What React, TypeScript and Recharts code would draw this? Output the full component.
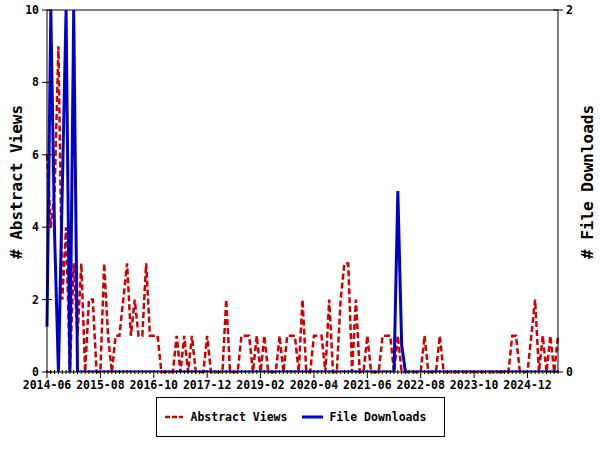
import React from "react";
import { LineChart, Line, XAxis, YAxis, Legend, ReferenceLine } from "recharts";

// monthly values, first month is 2014-06
const abstractViews = [
  6, 4, 5, 9, 2, 4, 0, 3, 1, 3, 0, 2, 2, 0, 0, 3, 1, 0, 1, 1,
  2, 3, 1, 2, 1, 1, 3, 1, 1, 1, 0, 0, 0, 0, 1, 0, 1, 0, 1, 0,
  0, 0, 1, 0, 0, 0, 0, 2, 0, 0, 0, 1, 1, 1, 0, 1, 0, 1, 0, 0,
  0, 1, 0, 1, 1, 1, 0, 2, 0, 0, 1, 1, 1, 0, 2, 0, 0, 2, 3, 3,
  0, 2, 0, 0, 1, 0, 0, 0, 1, 1, 1, 0, 1, 0, 0, 0, 0, 0, 0, 1,
  0, 0, 0, 1, 0, 0, 0, 0, 0, 0, 0, 0, 0, 0, 0, 0, 0, 0, 0, 0,
  0, 0, 1, 1, 0, 0, 0, 1, 2, 0, 1, 0, 1, 0, 1,
];

const fileDownloads = [
  0.25, 2, 0.75, 0, 1, 2, 0, 2, 0, 0, 0, 0, 0, 0, 0, 0, 0, 0, 0, 0,
  0, 0, 0, 0, 0, 0, 0, 0, 0, 0, 0, 0, 0, 0, 0, 0, 0, 0, 0, 0,
  0, 0, 0, 0, 0, 0, 0, 0, 0, 0, 0, 0, 0, 0, 0, 0, 0, 0, 0, 0,
  0, 0, 0, 0, 0, 0, 0, 0, 0, 0, 0, 0, 0, 0, 0, 0, 0, 0, 0, 0,
  0, 0, 0, 0, 0, 0, 0, 0, 0, 0, 0, 0, 1, 0.15, 0, 0, 0, 0, 0, 0,
  0, 0, 0, 0, 0, 0, 0, 0, 0, 0, 0, 0, 0, 0, 0, 0, 0, 0, 0, 0,
  0, 0, 0, 0, 0, 0, 0, 0, 0, 0, 0, 0, 0, 0, 0,
];

const tickLabels = [
  "2014-06", "2015-08", "2016-10", "2017-12", "2019-02",
  "2020-04", "2021-06", "2022-08", "2023-10", "2024-12",
];
const labelEvery = 14;

const viewTicks = [0, 2, 4, 6, 8, 10];
const downloadTicks = [0, 2];

const data = abstractViews.map((v, i) => ({
  i,
  views: v,
  downloads: fileDownloads[i],
}));
const monthTicks = data.map((d) => d.i);

const RED = "#cc0000";
const BLUE = "#0000c8";
const FONT = "'DejaVu Sans Mono', monospace";

const MonthTick = (props: any) => {
  const { x, y, payload } = props;
  const i = payload.value;
  const major = i % labelEvery === 0;
  return (
    <g>
      <line x1={x} x2={x} y1={y - 2} y2={y + (major ? 6 : 2)} stroke="#000" />
      {major && (
        <text x={x} y={y + 17} textAnchor="middle" fontFamily={FONT} fontSize={11.5} fontWeight="bold" fill="#000">
          {tickLabels[i / labelEvery]}
        </text>
      )}
    </g>
  );
};

const SideTick = (props: any) => {
  const { x, y, payload, right } = props;
  return (
    <g>
      <line x1={x - 5} x2={x + 5} y1={y} y2={y} stroke="#000" />
      <text
        x={right ? x + 8 : x - 8}
        y={y + 4}
        textAnchor={right ? "start" : "end"}
        fontFamily={FONT}
        fontSize={11.5}
        fontWeight="bold"
        fill="#000"
      >
        {payload.value}
      </text>
    </g>
  );
};

const AxisTitle = (props: any) => (
  <text
    x={props.tx}
    y={props.ty}
    transform={`rotate(-90 ${props.tx} ${props.ty})`}
    textAnchor="middle"
    fontFamily={FONT}
    fontSize={16}
    fontWeight="bold"
    fill="#000"
  >
    {props.text}
  </text>
);

const LegendBox = () => (
  <div style={{ height: 58, paddingTop: 5, boxSizing: "border-box", display: "flex", justifyContent: "center" }}>
    <div
      style={{
        width: 289,
        height: 40,
        boxSizing: "border-box",
        border: "1px solid #000",
        display: "flex",
        alignItems: "center",
        fontFamily: FONT,
        fontSize: 11.5,
        fontWeight: "bold",
        color: "#000",
        paddingLeft: 8,
      }}
    >
      <svg width={18} height={4} style={{ marginRight: 8 }}>
        <line x1={0} x2={18} y1={2} y2={2} stroke={RED} strokeWidth={2.5} strokeDasharray="5 2" />
      </svg>
      <span style={{ marginRight: 15 }}>Abstract Views</span>
      <svg width={21} height={4} style={{ marginRight: 6 }}>
        <line x1={0} x2={21} y1={2} y2={2} stroke={BLUE} strokeWidth={3} />
      </svg>
      <span>File Downloads</span>
    </div>
  </div>
);

export default function App() {
  return (
    <div style={{ position: "absolute", left: 0, top: 0, background: "#fff" }}>
      <LineChart width={600} height={450} data={data} margin={{ top: 10, right: 0, bottom: 0, left: 0 }}>
        <XAxis
          dataKey="i"
          type="number"
          domain={[0, 134]}
          ticks={monthTicks}
          interval={0}
          height={20}
          tickSize={0}
          tickMargin={0}
          tickLine={false}
          axisLine={{ stroke: "#000" }}
          tick={<MonthTick />}
        />
        <YAxis
          yAxisId="left"
          domain={[0, 10]}
          ticks={viewTicks}
          width={47}
          tickSize={0}
          tickMargin={0}
          tickLine={false}
          axisLine={{ stroke: "#000" }}
          tick={<SideTick />}
          label={<AxisTitle tx={22} ty={182} text="# Abstract Views" />}
        />
        <YAxis
          yAxisId="right"
          orientation="right"
          domain={[0, 2]}
          allowDataOverflow
          ticks={downloadTicks}
          width={42}
          tickSize={0}
          tickMargin={0}
          tickLine={false}
          axisLine={{ stroke: "#000" }}
          tick={<SideTick right />}
          label={<AxisTitle tx={593} ty={182} text="# File Downloads" />}
        />
        <ReferenceLine yAxisId="left" y={10} stroke="#000" />
        <Legend verticalAlign="bottom" content={<LegendBox />} />
        <Line
          yAxisId="left"
          dataKey="views"
          type="linear"
          stroke={RED}
          strokeWidth={2.5}
          strokeDasharray="6 3"
          dot={false}
          isAnimationActive={false}
        />
        <Line
          yAxisId="right"
          dataKey="downloads"
          type="linear"
          stroke={BLUE}
          strokeWidth={3}
          dot={false}
          isAnimationActive={false}
        />
      </LineChart>
    </div>
  );
}
